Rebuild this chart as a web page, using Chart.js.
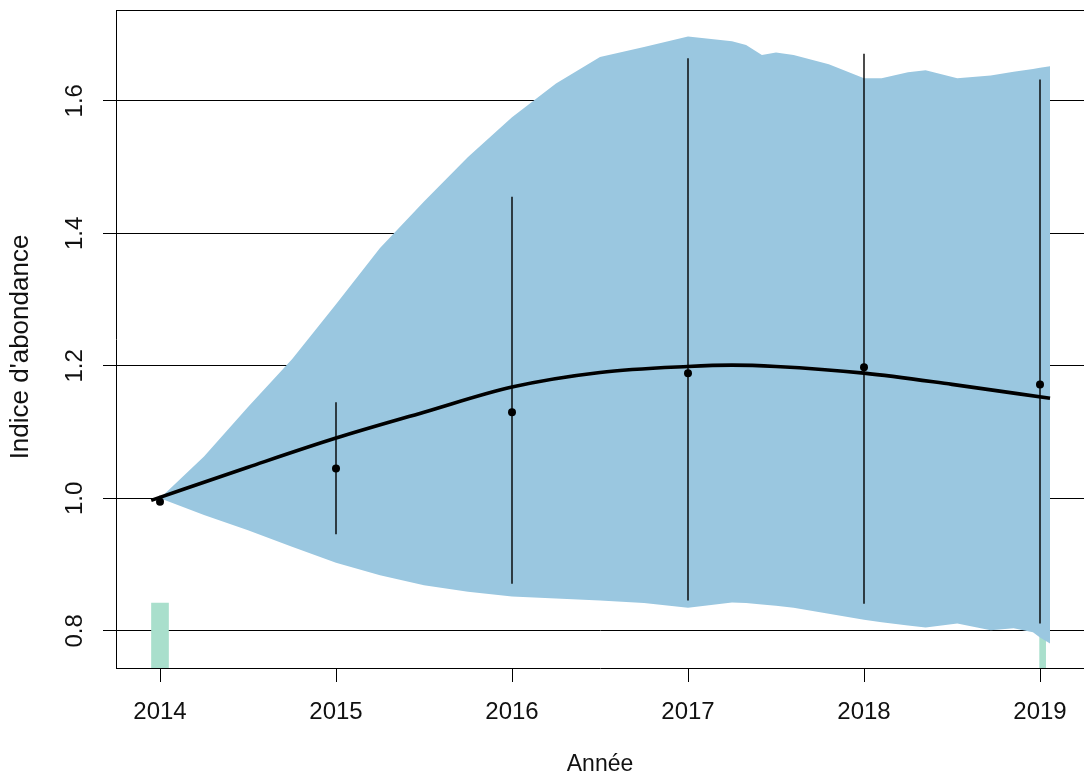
<!DOCTYPE html>
<html>
<head>
<meta charset="utf-8">
<script src="https://cdn.jsdelivr.net/npm/chart.js@4.4.1/dist/chart.umd.min.js"></script>
<style>
  html, body { margin: 0; padding: 0; background: #fff; }
</style>
</head>
<body>
<canvas id="grafico" width="1084" height="778"></canvas>
<script>
// bande d'incertitude (enveloppe bleue)
var anneesBande = [2014, 2014.25, 2014.5, 2014.75, 2015, 2015.25, 2015.5, 2015.75, 2016, 2016.25, 2016.5, 2016.75, 2017, 2017.25, 2017.33, 2017.42, 2017.5, 2017.6, 2017.8, 2018, 2018.1, 2018.25, 2018.35, 2018.53, 2018.72, 2018.85, 2018.96, 2019, 2019.057]
var bandeHaut = [1.0, 1.063, 1.138, 1.21, 1.293, 1.378, 1.448, 1.515, 1.575, 1.626, 1.666, 1.681, 1.697, 1.690, 1.684, 1.669, 1.673, 1.669, 1.655, 1.634, 1.634, 1.643, 1.646, 1.634, 1.638, 1.644, 1.648, 1.650, 1.652]
var bandeBas = [1.0, 0.975, 0.952, 0.927, 0.903, 0.884, 0.869, 0.859, 0.852, 0.849, 0.846, 0.842, 0.835, 0.843, 0.842, 0.840, 0.838, 0.835, 0.826, 0.817, 0.813, 0.808, 0.805, 0.811, 0.801, 0.804, 0.798, 0.790, 0.781]

// courbe de tendance lissee
var anneesCourbe = [2013.95, 2014.5, 2015, 2015.5, 2016, 2016.5, 2017, 2017.25, 2017.5, 2018, 2018.5, 2019.057]
var courbe = [0.997, 1.047, 1.091, 1.13, 1.168, 1.19, 1.199, 1.201, 1.199, 1.189, 1.172, 1.151]

// indices annuels + intervalles
var annees = [2014, 2015, 2016, 2017, 2018, 2019]
var indices = [0.995, 1.045, 1.130, 1.189, 1.198, 1.172]
var icBas = [0.990, 0.946, 0.871, 0.846, 0.841, 0.811]
var icHaut = [1.004, 1.145, 1.455, 1.664, 1.671, 1.632]

// petites barres vertes en bas
var anneesBarres = [2014, 2019.015]
var barres = [0.842, 0.80]

var ticksX = [2014, 2015, 2016, 2017, 2018, 2019]
var ticksY = [0.8, 1.0, 1.2, 1.4, 1.6]

var police = '"Liberation Sans", Arial, sans-serif'
var bleu = '#9ac7e0'
var vert = '#a9dfcc'

function pts(xs, ys){
    var r = []
    for (let i = 0; i < xs.length; i++) {
        r.push({x: xs[i], y: ys[i]})
    }
    return r
}

var barresIC = []
for (let i = 0; i < annees.length; i++) {
    barresIC.push({x: annees[i], y: icBas[i]})
    barresIC.push({x: annees[i], y: icHaut[i]})
    barresIC.push({x: annees[i], y: null})
}

// etiquettes Y tournees, titre Y + cadre du haut
var decor = {
    id: 'decor',
    afterDraw(chart){
        var ctx = chart.ctx
        var sy = chart.scales.y
        var a = chart.chartArea
        ctx.save()
        ctx.strokeStyle = '#000'
        ctx.lineWidth = 1
        ctx.beginPath()
        ctx.moveTo(a.left, a.top + 0.5)
        ctx.lineTo(a.right, a.top + 0.5)
        ctx.stroke()
        ctx.fillStyle = '#111'
        ctx.textAlign = 'center'
        ctx.textBaseline = 'middle'
        ctx.font = '24px ' + police
        sy.ticks.forEach(function(t){
            ctx.save()
            ctx.translate(a.left - 41, sy.getPixelForValue(t.value))
            ctx.rotate(-Math.PI / 2)
            ctx.fillText(t.value.toFixed(1), 0, 0)
            ctx.restore()
        })
        ctx.font = '26px ' + police
        ctx.translate(21, (a.top + a.bottom) / 2 + 8)
        ctx.rotate(-Math.PI / 2)
        ctx.fillText("Indice d'abondance", 0, 0)
        ctx.restore()
    }
}

const ctx = document.getElementById('grafico')

var grafico = new Chart(ctx, {
    type: 'line',
    data: {
        datasets: [
            {
                type: 'bar',
                data: [{x: anneesBarres[0], y: barres[0]}],
                backgroundColor: vert,
                barThickness: 17,
                grouped: false,
                order: 6
            },
            {
                type: 'bar',
                data: [{x: anneesBarres[1], y: barres[1]}],
                backgroundColor: vert,
                barThickness: 6,
                grouped: false,
                order: 6
            },
            {
                data: pts(anneesBande, bandeHaut),
                borderWidth: 0,
                pointRadius: 0,
                backgroundColor: bleu,
                fill: '+1',
                tension: 0,
                order: 5
            },
            {
                data: pts(anneesBande, bandeBas),
                borderWidth: 0,
                pointRadius: 0,
                fill: false,
                tension: 0,
                order: 5
            },
            {
                data: barresIC,
                borderColor: '#000',
                borderWidth: 1.4,
                pointRadius: 0,
                spanGaps: false,
                fill: false,
                order: 3
            },
            {
                data: pts(anneesCourbe, courbe),
                borderColor: '#000',
                borderWidth: 3.6,
                pointRadius: 0,
                cubicInterpolationMode: 'monotone',
                fill: false,
                order: 2
            },
            {
                data: pts(annees, indices),
                showLine: false,
                pointRadius: 4,
                pointBackgroundColor: '#000',
                pointBorderColor: '#000',
                pointBorderWidth: 0,
                order: 1
            }
        ]
    },
    options: {
        responsive: false,
        animation: false,
        layout: { autoPadding: false, padding: { top: 10, right: 0, bottom: 0, left: 0 } },
        plugins: {
            legend: { display: false },
            tooltip: { enabled: false }
        },
        scales: {
            x: {
                type: 'linear',
                min: 2013.75,
                max: 2019.25,
                offset: false,
                afterBuildTicks: function(s){ s.ticks = ticksX.map(v => ({value: v})) },
                afterFit: function(s){ s.height = 110; s.paddingLeft = 0; s.paddingRight = 0 },
                grid: { offset: false, drawOnChartArea: false, drawTicks: true, tickLength: 14, color: '#000' },
                border: { display: true, color: '#000', width: 1 },
                ticks: {
                    autoSkip: false,
                    maxRotation: 0,
                    padding: 16,
                    color: '#111',
                    font: { family: police, size: 24 },
                    callback: function(v){ return String(v) }
                },
                title: {
                    display: true,
                    text: 'Année',
                    color: '#111',
                    font: { family: police, size: 23 },
                    padding: { top: 0, bottom: 0 }
                }
            },
            y: {
                type: 'linear',
                min: 0.744,
                max: 1.737,
                beginAtZero: false,
                z: 1,
                afterBuildTicks: function(s){ s.ticks = ticksY.map(v => ({value: v})) },
                afterFit: function(s){ s.width = 116; s.paddingTop = 0; s.paddingBottom = 0 },
                grid: { color: '#000', lineWidth: 1, drawTicks: true, tickLength: 13 },
                border: { display: true, color: '#000', width: 1 },
                ticks: { display: false }
            }
        }
    },
    plugins: [decor]
});
</script>
</body>
</html>
